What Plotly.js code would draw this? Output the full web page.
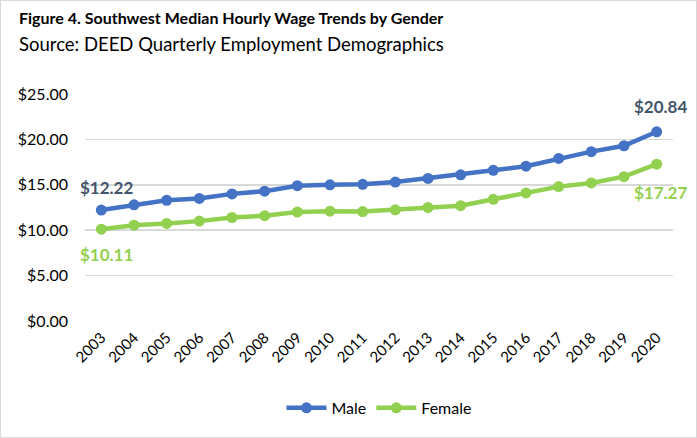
<!DOCTYPE html>
<html><head><meta charset="utf-8">
<script src="https://cdn.plot.ly/plotly-3.0.1.min.js"></script>
<style>
html,body{margin:0;padding:0;background:#fff;}
#wrap{width:697px;height:438px;box-sizing:border-box;border:1px solid #d9d9d9;}
#chart{width:695px;height:436px;}
</style></head>
<body><div id="wrap"><div id="chart"></div></div>
<script>
var years = ["2003","2004","2005","2006","2007","2008","2009","2010","2011","2012","2013","2014","2015","2016","2017","2018","2019","2020"];
var male = [12.22,12.8,13.3,13.5,14.0,14.3,14.9,15.0,15.05,15.3,15.7,16.1,16.6,17.05,17.9,18.65,19.3,20.84];
var female = [10.11,10.55,10.75,11.0,11.4,11.6,12.0,12.1,12.05,12.25,12.5,12.7,13.4,14.1,14.8,15.2,15.9,17.27];
var yTicks = [0,5,10,15,20,25];
var yTickText = ["$0.00","$5.00","$10.00","$15.00","$20.00","$25.00"];
var titleText = "Figure 4. Southwest Median Hourly Wage Trends by Gender";
var subtitleText = "Source: DEED Quarterly Employment Demographics";

var FONT = "Lato, 'Open Sans', sans-serif";
var blue = "#4472C4", green = "#92D050", slate = "#44546A";

var traces = [
  {x: years, y: male, name: "Male", type: "scatter", mode: "lines+markers",
   line: {color: blue, width: 4.5}, marker: {color: blue, size: 11}},
  {x: years, y: female, name: "Female", type: "scatter", mode: "lines+markers",
   line: {color: green, width: 4.5}, marker: {color: green, size: 11}}
];

var last = years.length - 1;
function fmt(v){ return "$" + v.toFixed(2); }
var annotations = [
  {xref:"paper", yref:"paper", x:-0.115, y:1.335, xanchor:"left", yanchor:"middle", showarrow:false,
   text:"<b>"+titleText+"</b>", font:{family:FONT, size:16, color:"#000"}},
  {xref:"paper", yref:"paper", x:-0.115, y:1.22, xanchor:"left", yanchor:"middle", showarrow:false,
   text:subtitleText, font:{family:FONT, size:18.5, color:"#000"}},
  {xref:"x", yref:"y", x: 0, y: male[0], text: "<b>"+fmt(male[0])+"</b>", showarrow:false, xshift:5, yshift:23,
   font:{family:FONT, size:17, color:slate}},
  {xref:"x", yref:"y", x: 0, y: female[0], text: "<b>"+fmt(female[0])+"</b>", showarrow:false, xshift:5, yshift:-25,
   font:{family:FONT, size:17, color:green}},
  {xref:"x", yref:"y", x: last, y: male[last], text: "<b>"+fmt(male[last])+"</b>", showarrow:false, xshift:4, yshift:25,
   font:{family:FONT, size:17, color:slate}},
  {xref:"x", yref:"y", x: last, y: female[last], text: "<b>"+fmt(female[last])+"</b>", showarrow:false, xshift:4, yshift:-28,
   font:{family:FONT, size:17, color:green}}
];

var layout = {
  width: 695, height: 436,
  margin: {l: 84, r: 23, t: 93, b: 116},
  paper_bgcolor: "#fff", plot_bgcolor: "#fff",
  font: {family: FONT, size: 14, color: "#000"},
  showlegend: true,
  legend: {orientation: "h", x: 0.5, xanchor: "center", y: -0.383, yanchor: "middle",
           font: {family: FONT, size: 16, color: "#000"}, itemwidth: 40, tracegroupgap: 0},
  xaxis: {type: "category", range: [-0.5, 17.5], tickangle: -45, showgrid: false,
          showline: false, zeroline: false, ticks: "", ticklabelstandoff: 4,
          tickfont: {family: FONT, size: 15, color:"#000"}},
  yaxis: {range: [0, 25], tickvals: yTicks, ticktext: yTickText, showgrid: true,
          gridcolor: "#d9d9d9", gridwidth: 1.5, zeroline: false, showline: false, ticks: "",
          ticklabelstandoff: 16, tickfont: {family: FONT, size: 16, color:"#000"}},
  annotations: annotations
};

Plotly.newPlot("chart", traces, layout, {displayModeBar: false, staticPlot: true});
</script></body></html>
